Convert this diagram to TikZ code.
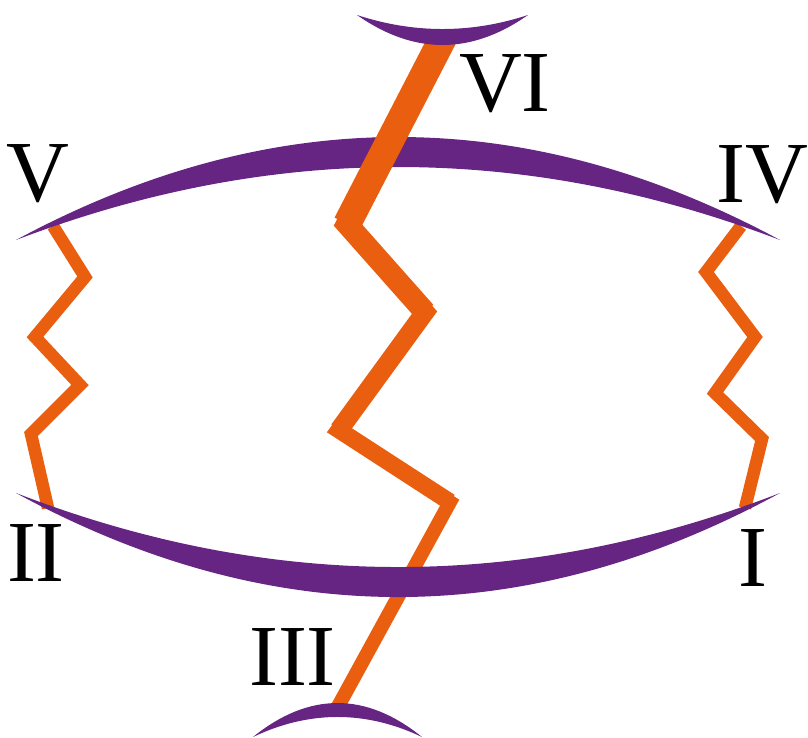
\documentclass[tikz,border=0pt]{standalone}
\usepackage{fontspec}
\setmainfont{Liberation Serif}[Ligatures=TeX]
\definecolor{lens}{HTML}{662483}
\definecolor{spring}{HTML}{E95E0F}
\newcommand{\numfont}{\rmfamily\fontsize{87}{90}\selectfont}
\begin{document}
\begin{tikzpicture}[x=1pt,y=-1pt]
\useasboundingbox (0,0) rectangle (808,738);
\tikzset{zig/.style={spring,line width=12.5pt,line join=miter},
  numlbl/.style={inner sep=0,anchor=base,font=\numfont}}
\draw[zig] (53,226) -- (85,277) -- (35,337) -- (80,385) -- (31,434) -- (48,508);
\draw[zig] (741,226) -- (706,272) -- (755,337) -- (715,393) -- (762,439) -- (745,508);
\fill[lens] (16,240) .. controls (271,102.7) and (525,102.7) .. (780,240)
  .. controls (525,142.7) and (271,142.7) .. (16,240) -- cycle;
\coordinate (c0) at (443,38);
\coordinate (c1) at (347,224);
\coordinate (c2) at (425,312);
\coordinate (c3) at (339,430);
\coordinate (c4) at (450,502);
\coordinate (c5) at (335,712);
\draw[spring,line width=14pt] (c0) -- (c1) -- (c2) -- (c3) -- (c4) -- (c5);
\draw[spring,line width=17pt] (c0) -- (c1) -- (c2) -- (c3) -- (c4);
\draw[spring,line width=19pt] (c0) -- (c1) -- (c2) -- (c3);
\draw[spring,line width=22pt] (c0) -- (c1) -- (c2);
\draw[spring,line width=28pt] (c0) -- (c1);
\fill[lens] (16,493) .. controls (271,591.7) and (525,591.7) .. (780,493)
  .. controls (525,631.7) and (271,631.7) .. (16,493) -- cycle;
\fill[lens] (357,15) .. controls (414,33.7) and (471,33.7) .. (528,15)
  .. controls (471,55) and (414,55) .. (357,15) -- cycle;
\fill[lens] (253,737) .. controls (309,691.7) and (366,691.7) .. (422,737)
  .. controls (366,710.3) and (309,710.3) .. (253,737) -- cycle;
\node[numlbl] (lblV) at (38,202) {V};
\node[numlbl] (lblIV) at (762,203) {IV};
\node[numlbl] (lblVI) at (505,112) {VI};
\node[numlbl] (lblII) at (36,581) {II};
\node[numlbl] (lblI) at (752.5,586) {I};
\node[numlbl] (lblIII) at (292.5,685) {III};
\end{tikzpicture}
\end{document}
